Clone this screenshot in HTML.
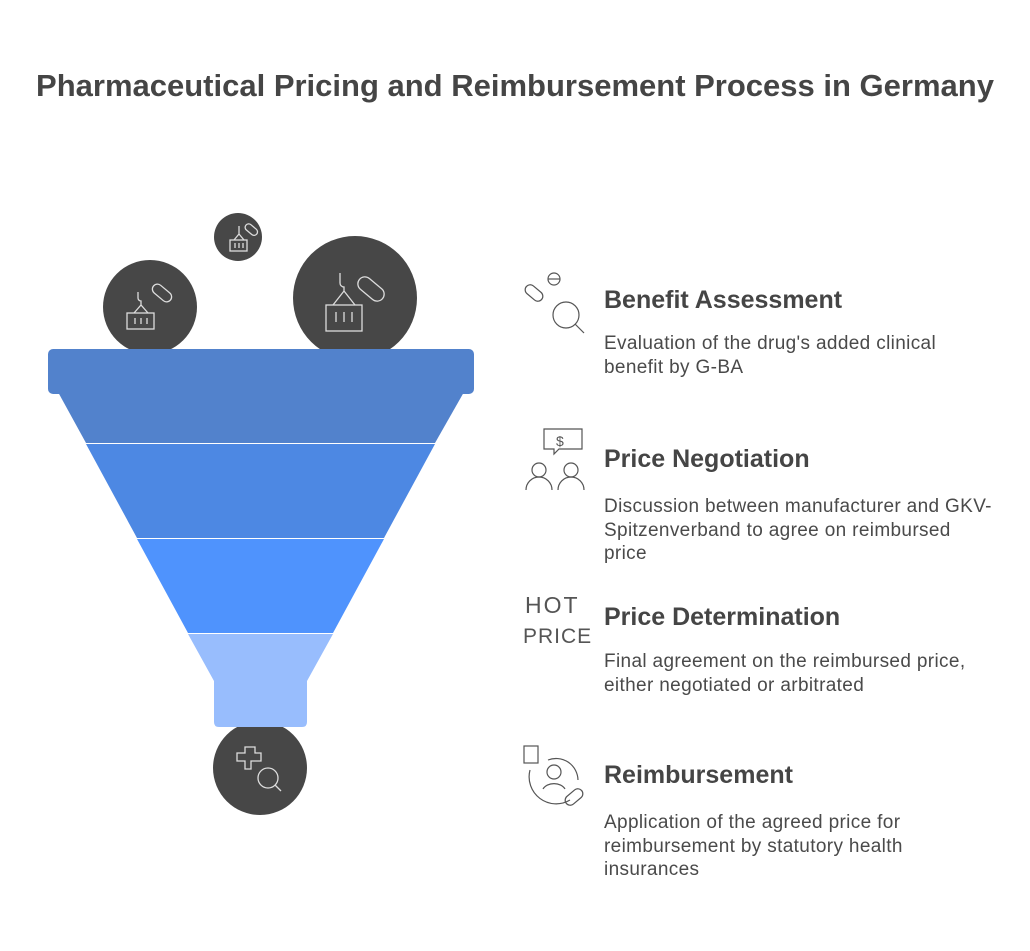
<!DOCTYPE html>
<html><head><style>
body{margin:0;width:1030px;height:951px;background:#fff;font-family:"Liberation Sans",sans-serif;color:#444;position:relative;overflow:hidden}
.t{position:absolute;left:0;width:1030px;text-align:center;top:68px;font-size:31px;font-weight:bold;color:#454545}
.h{position:absolute;left:604px;font-size:25px;font-weight:bold;color:#454545}
.d{position:absolute;left:604px;font-size:19px;letter-spacing:0.35px;line-height:23.5px;color:#4a4a4a;width:420px}
</style></head><body>
<div class="t">Pharmaceutical Pricing and Reimbursement Process in Germany</div>
<svg width="1030" height="951" style="position:absolute;left:0;top:0">
<g fill="#474747">
<circle cx="238" cy="237" r="24"/><circle cx="150" cy="307" r="47"/><circle cx="355" cy="298" r="62"/><circle cx="260" cy="768" r="47"/>
</g>
<rect x="48" y="349" width="426" height="45" rx="5" fill="#5282cc"/>
<polygon points="58,392 464,392 435,443 86,443" fill="#5282cc"/>
<polygon points="86,444 435,444 384,538 137,538" fill="#4d88e3"/>
<polygon points="137,539 384,539 333,633 188,633" fill="#4f93fd"/>
<path d="M188,634 L333,634 L307,681 L307,722 Q307,727 302,727 L219,727 Q214,727 214,722 L214,681 Z" fill="#98bdfd"/>
<g fill="none" stroke="#ddd" stroke-width="1.3">
<rect x="127" y="313" width="27" height="16"/><path d="M135,318v6M141,318v6M147,318v6M134,313l7,-8l7,8M141,305v-4a3,3 0 0 1 -3,-3v-6"/>
<rect x="151" y="288" width="22" height="10" rx="5" transform="rotate(40 162 293)"/>
<rect x="326" y="305" width="36" height="26"/><path d="M336,312v10M344,312v10M352,312v10M333,305l11,-14l11,14M344,291v-4a4,4 0 0 1 -4,-4v-10"/>
<rect x="356" y="282" width="30" height="14" rx="7" transform="rotate(40 371 289)"/>
<rect x="230" y="240" width="17" height="11"/><path d="M235,243v5M239,243v5M243,243v5M234,240l5,-6l5,6M239,234v-8"/>
<rect x="244" y="226" width="14" height="7" rx="3.5" transform="rotate(40 251 230)"/>
<path d="M245,747h10v6h6v8h-10v8h-6v-8h-8v-8h8z"/><circle cx="268" cy="778" r="10"/><path d="M275,785l6,6"/>
</g>
<g fill="none" stroke="#555" stroke-width="1.2">
<circle cx="566" cy="315" r="13"/><path d="M575,324l9,9"/><circle cx="554" cy="279" r="6"/><path d="M548,279h12"/>
<rect x="524" y="288" width="20" height="10" rx="5" transform="rotate(40 534 293)"/>
<path d="M544,429h38v20h-23l-5,5v-5h-10z"/><text x="556" y="446" font-size="14" fill="#555" stroke="none">$</text>
<circle cx="539" cy="470" r="7"/><circle cx="571" cy="470" r="7"/><path d="M526,490a13,13 0 0 1 26,0M558,490a13,13 0 0 1 26,0"/>
<rect x="524" y="746" width="14" height="17"/><circle cx="554" cy="772" r="7"/><path d="M543,789a12,9 0 0 1 22,0M530,770a27,27 0 0 0 40,30M548,760a22,22 0 0 1 30,20"/>
<rect x="564" y="792" width="20" height="10" rx="5" transform="rotate(-40 574 797)"/>
</g>
<text x="525" y="613" font-size="23" fill="#555" font-family="Liberation Sans" letter-spacing="2">HOT</text>
<text x="523" y="643" font-size="21" fill="#555" font-family="Liberation Sans" letter-spacing="1">PRICE</text>
</svg>
<div class="h" style="top:286px">Benefit Assessment</div>
<div class="d" style="top:332px">Evaluation of the drug's added clinical<br>benefit by G-BA</div>
<div class="h" style="top:445px">Price Negotiation</div>
<div class="d" style="top:495px">Discussion between manufacturer and GKV-<br>Spitzenverband to agree on reimbursed<br>price</div>
<div class="h" style="top:603px">Price Determination</div>
<div class="d" style="top:650px">Final agreement on the reimbursed price,<br>either negotiated or arbitrated</div>
<div class="h" style="top:761px">Reimbursement</div>
<div class="d" style="top:811px">Application of the agreed price for<br>reimbursement by statutory health<br>insurances</div>
</body></html>
